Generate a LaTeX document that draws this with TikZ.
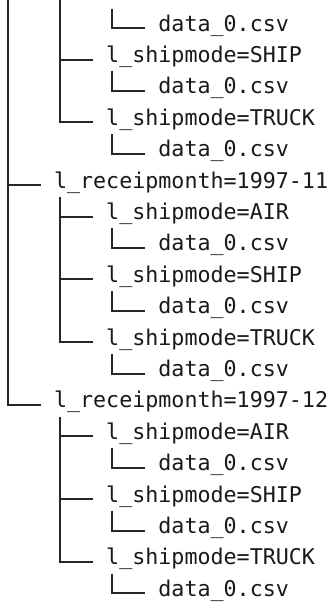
\documentclass[tikz,border=0pt]{standalone}
\usepackage{fontspec}
\newfontfamily\treefont{DejaVu Sans Mono}
\usetikzlibrary{positioning}

\begin{document}
\begin{tikzpicture}[
	node distance=23.55pt and 39.15pt,
	entry/.style={font=\treefont\fontsize{16.26}{19}\selectfont, text=black!90, inner sep=0pt, anchor=base west},
	branch/.style={draw=black!85, line width=1.5pt, to path={|- (\tikztotarget)}}
	]
	\useasboundingbox (0,0) rectangle (248.25pt,-451.5pt);

	% parents cut off above the picture
	\coordinate (top0) at (6pt,0);
	\coordinate (top1) at (45.15pt,0);
	\coordinate (top2) at (84.3pt,-6.75pt);

	\node[entry] (d1) at (118.6pt,-23.3pt) {data\_0.csv};
	\node[below left=of d1.base west, entry] (s1) {l\_shipmode=SHIP};
	\node[below right=of s1.base west, entry] (d2) {data\_0.csv};
	\node[below left=of d2.base west, entry] (t1) {l\_shipmode=TRUCK};
	\node[below right=of t1.base west, entry] (d3) {data\_0.csv};

	\node[below left=23.55pt and 78.3pt of d3.base west, entry] (m11) {l\_receipmonth=1997-11};
	\node[below right=of m11.base west, entry] (a2) {l\_shipmode=AIR};
	\node[below right=of a2.base west, entry] (d4) {data\_0.csv};
	\node[below left=of d4.base west, entry] (s2) {l\_shipmode=SHIP};
	\node[below right=of s2.base west, entry] (d5) {data\_0.csv};
	\node[below left=of d5.base west, entry] (t2) {l\_shipmode=TRUCK};
	\node[below right=of t2.base west, entry] (d6) {data\_0.csv};

	\node[below left=23.55pt and 78.3pt of d6.base west, entry] (m12) {l\_receipmonth=1997-12};
	\node[below right=of m12.base west, entry] (a3) {l\_shipmode=AIR};
	\node[below right=of a3.base west, entry] (d7) {data\_0.csv};
	\node[below left=of d7.base west, entry] (s3) {l\_shipmode=SHIP};
	\node[below right=of s3.base west, entry] (d8) {data\_0.csv};
	\node[below left=of d8.base west, entry] (t3) {l\_shipmode=TRUCK};
	\node[below right=of t3.base west, entry] (d9) {data\_0.csv};

	\path (top0) edge[branch] ([xshift=-9.79pt]m11.mid west)
	(top0) edge[branch] ([xshift=-9.79pt]m12.mid west)
	(top1) edge[branch] ([xshift=-9.79pt]s1.mid west)
	(top1) edge[branch] ([xshift=-9.79pt]t1.mid west)
	(top2) edge[branch] ([xshift=-9.79pt]d1.mid west)
	([xshift=4.9pt,yshift=-6.75pt]s1.base west) edge[branch] ([xshift=-9.79pt]d2.mid west)
	([xshift=4.9pt,yshift=-6.75pt]t1.base west) edge[branch] ([xshift=-9.79pt]d3.mid west)

	([xshift=4.9pt,yshift=-6.75pt]m11.base west) edge[branch] ([xshift=-9.79pt]a2.mid west)
	([xshift=4.9pt,yshift=-6.75pt]m11.base west) edge[branch] ([xshift=-9.79pt]s2.mid west)
	([xshift=4.9pt,yshift=-6.75pt]m11.base west) edge[branch] ([xshift=-9.79pt]t2.mid west)
	([xshift=4.9pt,yshift=-6.75pt]a2.base west) edge[branch] ([xshift=-9.79pt]d4.mid west)
	([xshift=4.9pt,yshift=-6.75pt]s2.base west) edge[branch] ([xshift=-9.79pt]d5.mid west)
	([xshift=4.9pt,yshift=-6.75pt]t2.base west) edge[branch] ([xshift=-9.79pt]d6.mid west)

	([xshift=4.9pt,yshift=-6.75pt]m12.base west) edge[branch] ([xshift=-9.79pt]a3.mid west)
	([xshift=4.9pt,yshift=-6.75pt]m12.base west) edge[branch] ([xshift=-9.79pt]s3.mid west)
	([xshift=4.9pt,yshift=-6.75pt]m12.base west) edge[branch] ([xshift=-9.79pt]t3.mid west)
	([xshift=4.9pt,yshift=-6.75pt]a3.base west) edge[branch] ([xshift=-9.79pt]d7.mid west)
	([xshift=4.9pt,yshift=-6.75pt]s3.base west) edge[branch] ([xshift=-9.79pt]d8.mid west)
	([xshift=4.9pt,yshift=-6.75pt]t3.base west) edge[branch] ([xshift=-9.79pt]d9.mid west);

\end{tikzpicture}
\end{document}
